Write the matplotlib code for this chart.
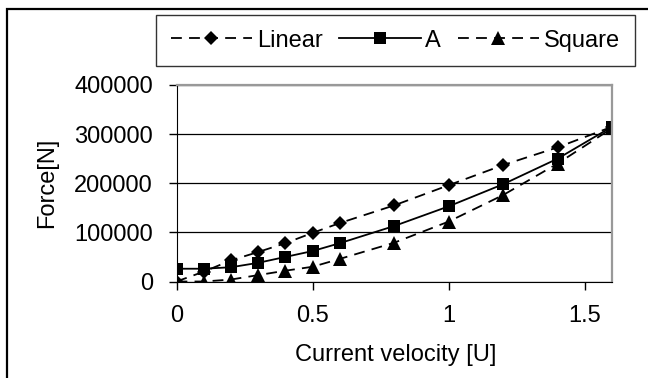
import matplotlib.pyplot as plt
import matplotlib.patches as patches

plt.rcParams['font.family'] = ['Liberation Sans', 'DejaVu Sans']

velocity = [0, 0.1, 0.2, 0.3, 0.4, 0.5, 0.6, 0.8, 1.0, 1.2, 1.4, 1.6]
linear = [0, 20000, 43000, 60000, 78000, 99000, 119000, 155000, 196000, 237000, 273000, 315000]
force_a = [26000, 26000, 29000, 38000, 50000, 62000, 78000, 113000, 153000, 198000, 250000, 315000]
square = [0, 0, 4000, 13000, 22000, 30000, 46000, 79000, 122000, 176000, 240000, 312000]

x_ticks = [0, 0.5, 1, 1.5]
x_labels = ['0', '0.5', '1', '1.5']
y_ticks = [0, 100000, 200000, 300000, 400000]

FS = 17

fig = plt.figure(figsize=(6.48, 3.78), dpi=100)
ax = fig.add_axes([176.5/648, 1 - 281.5/378, 435.5/648, 196.5/378])

# outer chart border (right / bottom edges are cut off in the original)
fig.patches.append(patches.Rectangle((6.5/648, -0.1), 1.2, 1.1 - 8.5/378,
                                     transform=fig.transFigure, fill=False,
                                     edgecolor='black', linewidth=1.6))

ax.plot(velocity, linear, color='black', lw=1.3, dashes=(6, 4),
        marker='D', markersize=7, markeredgewidth=0, label='Linear')
ax.plot(velocity, force_a, color='black', lw=1.3,
        marker='s', markersize=8, markeredgewidth=0, label='A')
ax.plot(velocity, square, color='black', lw=1.3, dashes=(6, 4),
        marker='^', markersize=9.5, markeredgewidth=0, label='Square')

ax.set_xlim(0, 1.6)
ax.set_ylim(0, 400000)
ax.set_xticks(x_ticks, labels=x_labels)
ax.set_yticks(y_ticks, labels=[str(v) for v in y_ticks])
ax.tick_params(axis='both', direction='out', length=6, width=1, labelsize=FS, colors='black')
ax.tick_params(axis='x', pad=11)
ax.tick_params(axis='y', pad=11)

ax.grid(axis='y', color='black', linewidth=0.9)
ax.set_axisbelow(True)

ax.spines['left'].set_color('black')
ax.spines['bottom'].set_color('black')
ax.spines['top'].set_color('#999999')
ax.spines['right'].set_color('#999999')
ax.spines['top'].set_linewidth(1.6)
ax.spines['right'].set_linewidth(1.6)

ax.set_xlabel('Current velocity [U]', fontsize=FS)
ax.set_ylabel('Force[N]', fontsize=FS)
ax.xaxis.set_label_coords(0.504, -0.32)
ax.yaxis.set_label_coords(-0.271, 0.5)

leg = fig.legend(loc='upper left', bbox_to_anchor=(156/648, 1 - 15/378), ncol=3,
                 fontsize=FS, frameon=True, fancybox=False, borderaxespad=0,
                 handlelength=3.45, handletextpad=0.2, columnspacing=0.7,
                 borderpad=0.62)
leg.get_frame().set_edgecolor('black')
leg.get_frame().set_linewidth(1.0)

fig.savefig('out.png', dpi=100)
